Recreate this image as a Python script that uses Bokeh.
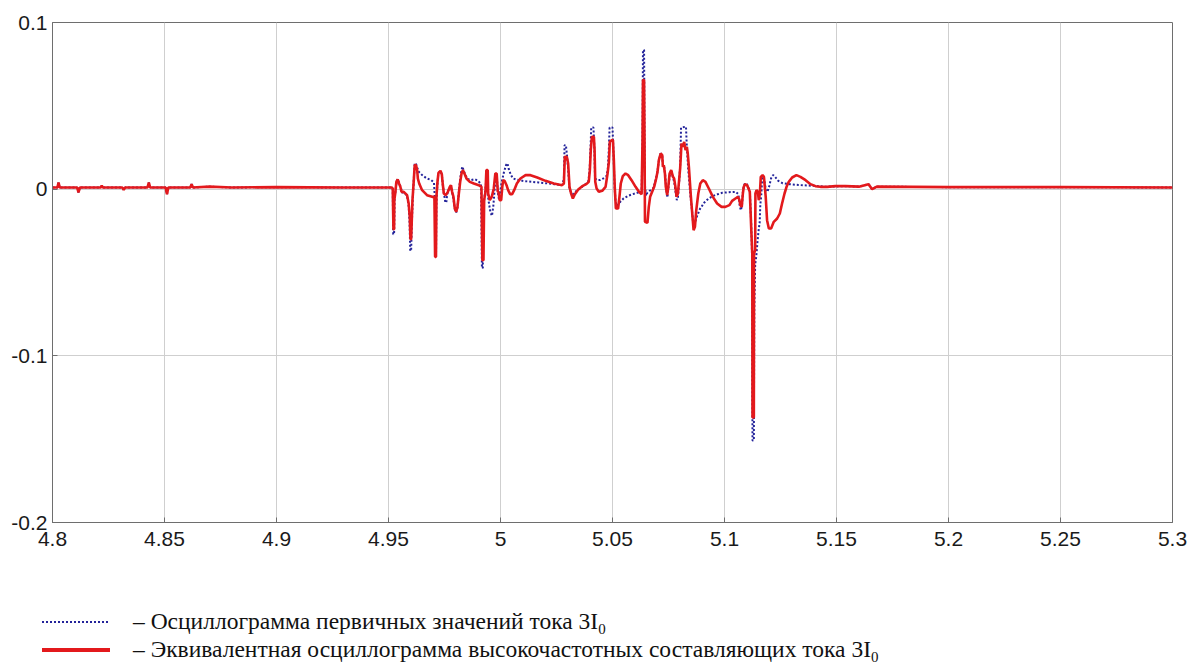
from bokeh.plotting import figure
from bokeh.layouts import column
from bokeh.models import Range1d, FixedTicker, CustomJSTickFormatter, Div
from bokeh.embed import file_html
from bokeh.resources import INLINE

# ---------------- data ----------------
x_ticks = [4.8, 4.85, 4.9, 4.95, 5.0, 5.05, 5.1, 5.15, 5.2, 5.25, 5.3]
y_ticks = [-0.2, -0.1, 0.0, 0.1]

base_t = [4.800, 4.8022, 4.8027, 4.8032, 4.8110, 4.8116, 4.8122, 4.8215, 4.8220, 4.8225,
          4.8312, 4.8318, 4.8324, 4.8424, 4.8430, 4.8436, 4.8505, 4.8511, 4.8517, 4.8615,
          4.8621, 4.8627, 4.8700, 4.8800, 4.9000, 4.9300, 4.9516]
base_v = [0.001, 0.001, 0.004, 0.001, 0.001, -0.002, 0.001, 0.001, 0.002, 0.001,
          0.001, -0.0005, 0.001, 0.001, 0.004, 0.001, 0.001, -0.003, 0.001, 0.001,
          0.003, 0.001, 0.0015, 0.001, 0.0012, 0.001, 0.001]

tail_t = [5.1540, 5.1600, 5.1643, 5.1659, 5.1680, 5.2000, 5.2500, 5.3000]
tail_v = [0.0018, 0.0015, 0.003, 0.0, 0.0015, 0.0012, 0.0012, 0.001]

red_event_t = [4.9519, 4.9522, 4.9525, 4.9526, 4.9531, 4.9535, 4.9541, 4.9547, 4.9553, 4.9558,
               4.9568, 4.9583, 4.9590, 4.9595, 4.9598, 4.9601, 4.9603, 4.9607, 4.9613, 4.9617,
               4.9623, 4.9628, 4.9631, 4.9637, 4.9650, 4.9672, 4.9695, 4.9705, 4.9708, 4.9712,
               4.9714, 4.9718, 4.9723, 4.9732, 4.9738, 4.9742, 4.9747, 4.9756, 4.9765, 4.9774,
               4.9779, 4.9784, 4.9790, 4.9796, 4.9802, 4.9808, 4.9814, 4.9820, 4.9826, 4.9832,
               4.9839, 4.9848, 4.9863, 4.9881, 4.9903, 4.9915, 4.9919, 4.9924, 4.9927, 4.9933,
               4.9937, 4.9943, 4.9945, 4.9952, 4.9961, 4.9970, 4.9977, 4.9983, 4.9988, 4.9991,
               4.9996, 5.0003, 5.0008, 5.0012, 5.0019, 5.0027, 5.0034, 5.0043, 5.0052, 5.0061,
               5.0073, 5.0089, 5.0112, 5.0134, 5.0164, 5.0201, 5.0238, 5.0275, 5.0283, 5.0287,
               5.0296, 5.0302, 5.0308, 5.0316, 5.0323, 5.0332, 5.0347, 5.0365, 5.0383, 5.0394,
               5.0399, 5.0403, 5.0408, 5.0417, 5.0420, 5.0423, 5.0429, 5.0439, 5.0454, 5.0469,
               5.0478, 5.0484, 5.0488, 5.0497, 5.0502, 5.0506, 5.0510, 5.0515, 5.0525, 5.0531,
               5.0537, 5.0546, 5.0558, 5.0570, 5.0585, 5.0603, 5.0618, 5.0630, 5.0634, 5.0636,
               5.0641, 5.0643, 5.0645, 5.0656, 5.0662, 5.0668, 5.0677, 5.0686, 5.0695, 5.0701,
               5.0707, 5.0715, 5.0722, 5.0725, 5.0729, 5.0734, 5.0738, 5.0744, 5.0749, 5.0755,
               5.0762, 5.0770, 5.0775, 5.0781, 5.0786, 5.0792, 5.0796, 5.0802, 5.0808, 5.0814,
               5.0820, 5.0826, 5.0832, 5.0836, 5.0841, 5.0845, 5.0850, 5.0856, 5.0862, 5.0868,
               5.0874, 5.0883, 5.0892, 5.0903, 5.0915, 5.0930, 5.0948, 5.0967, 5.0987, 5.1004,
               5.1022, 5.1034, 5.1049, 5.1060, 5.1066, 5.1071, 5.1077, 5.1082, 5.1086, 5.1092,
               5.1101, 5.1107, 5.1113, 5.1119, 5.1124, 5.1125, 5.1131, 5.1132, 5.1137, 5.1138,
               5.1143, 5.1149, 5.1153, 5.1158, 5.1162, 5.1170, 5.1176, 5.1180, 5.1184, 5.1190,
               5.1198, 5.1208, 5.1220, 5.1235, 5.1247, 5.1257, 5.1268, 5.1277, 5.1287, 5.1302,
               5.1321, 5.1339, 5.1362, 5.1384, 5.1406, 5.1428, 5.1458, 5.1495]
red_event_v = [0.0002, -0.0240, -0.0240, -0.0066, -0.0016, 0.0044, 0.0058, 0.0034, 0.0014, -0.0016,
               -0.0016, -0.0036, -0.0086, -0.0166, -0.0300, -0.0300, -0.0226, -0.0066, 0.0054, 0.0144,
               0.0144, 0.0114, 0.0064, 0.0034, -0.0006, -0.0036, -0.0046, -0.0046, -0.0406, -0.0406,
               -0.0046, 0.0034, 0.0098, 0.0110, 0.0090, 0.0034, -0.0026, -0.0036, -0.0016, 0.0014,
               0.0024, -0.0016, -0.0046, -0.0116, -0.0136, -0.0106, -0.0026, 0.0044, 0.0094, 0.0114,
               0.0094, 0.0064, 0.0044, 0.0034, 0.0024, 0.0014, -0.0426, -0.0426, -0.0066, -0.0016,
               0.0114, 0.0114, -0.0026, -0.0066, -0.0046, 0.0004, 0.0094, 0.0094, -0.0016, -0.0016,
               -0.0066, -0.0066, 0.0014, 0.0054, 0.0048, 0.0024, -0.0006, -0.0030, -0.0030, -0.0006,
               0.0034, 0.0064, 0.0084, 0.0084, 0.0070, 0.0050, 0.0034, 0.0024, 0.0034, 0.0194,
               0.0194, 0.0154, 0.0014, -0.0030, -0.0056, -0.0030, -0.0002, 0.0018, 0.0030, 0.0044,
               0.0114, 0.0234, 0.0314, 0.0314, 0.0234, 0.0044, 0.0004, -0.0016, -0.0010, 0.0014,
               0.0094, 0.0164, 0.0284, 0.0294, 0.0294, 0.0174, 0.0014, -0.0116, -0.0116, -0.0046,
               0.0034, 0.0078, 0.0094, 0.0084, 0.0054, 0.0014, -0.0016, -0.0030, 0.0294, 0.0655,
               0.0655, 0.0294, -0.0196, -0.0202, -0.0106, -0.0046, -0.0016, 0.0014, 0.0064, 0.0104,
               0.0174, 0.0214, 0.0204, 0.0134, 0.0144, 0.0094, 0.0014, -0.0036, 0.0014, 0.0094,
               0.0114, 0.0074, 0.0064, 0.0014, -0.0046, -0.0026, 0.0034, 0.0124, 0.0274, 0.0254,
               0.0284, 0.0234, 0.0254, 0.0214, 0.0134, 0.0054, -0.0046, -0.0146, -0.0246, -0.0226,
               -0.0126, -0.0026, 0.0034, 0.0054, 0.0044, 0.0004, -0.0046, -0.0086, -0.0106, -0.0106,
               -0.0096, -0.0070, -0.0056, -0.0046, -0.0062, -0.0096, -0.0106, -0.0026, 0.0014, 0.0030,
               0.0024, 0.0004, -0.0016, -0.0226, -0.0386, -0.1370, -0.1370, -0.0386, -0.0366, -0.0026,
               -0.0006, -0.0016, -0.0066, -0.0026, 0.0074, 0.0084, 0.0074, 0.0014, -0.0046, -0.0186,
               -0.0236, -0.0236, -0.0196, -0.0176, -0.0146, -0.0086, -0.0026, 0.0014, 0.0044, 0.0070,
               0.0084, 0.0074, 0.0054, 0.0030, 0.0018, 0.0014, 0.0014, 0.0018]

blue_event_t = [4.9519, 4.9521, 4.9525, 4.9527, 4.9532, 4.9537, 4.9542, 4.9548, 4.9555, 4.9560,
                4.9570, 4.9583, 4.9590, 4.9594, 4.9597, 4.9601, 4.9604, 4.9608, 4.9613, 4.9617,
                4.9622, 4.9628, 4.9635, 4.9650, 4.9670, 4.9690, 4.9703, 4.9707, 4.9709, 4.9712,
                4.9714, 4.9718, 4.9722, 4.9730, 4.9738, 4.9742, 4.9748, 4.9754, 4.9758, 4.9762,
                4.9770, 4.9778, 4.9784, 4.9790, 4.9796, 4.9802, 4.9808, 4.9814, 4.9820, 4.9826,
                4.9830, 4.9836, 4.9845, 4.9855, 4.9870, 4.9885, 4.9900, 4.9913, 4.9917, 4.9921,
                4.9924, 4.9930, 4.9937, 4.9942, 4.9948, 4.9955, 4.9962, 4.9968, 4.9974, 4.9978,
                4.9983, 4.9988, 4.9993, 4.9998, 5.0005, 5.0015, 5.0025, 5.0031, 5.0037, 5.0045,
                5.0055, 5.0070, 5.0090, 5.0110, 5.0140, 5.0170, 5.0200, 5.0240, 5.0275, 5.0283,
                5.0286, 5.0292, 5.0297, 5.0302, 5.0308, 5.0316, 5.0323, 5.0335, 5.0350, 5.0365,
                5.0380, 5.0393, 5.0398, 5.0402, 5.0405, 5.0415, 5.0419, 5.0422, 5.0430, 5.0445,
                5.0460, 5.0472, 5.0479, 5.0484, 5.0487, 5.0500, 5.0505, 5.0509, 5.0513, 5.0518,
                5.0525, 5.0535, 5.0550, 5.0570, 5.0590, 5.0610, 5.0630, 5.0634, 5.0636, 5.0641,
                5.0643, 5.0645, 5.0650, 5.0656, 5.0665, 5.0680, 5.0690, 5.0700, 5.0707, 5.0715,
                5.0722, 5.0726, 5.0730, 5.0735, 5.0740, 5.0745, 5.0750, 5.0756, 5.0763, 5.0770,
                5.0776, 5.0782, 5.0787, 5.0792, 5.0797, 5.0802, 5.0806, 5.0828, 5.0832, 5.0838,
                5.0843, 5.0848, 5.0855, 5.0861, 5.0866, 5.0875, 5.0890, 5.0910, 5.0930, 5.0950,
                5.0970, 5.0990, 5.1020, 5.1050, 5.1062, 5.1068, 5.1073, 5.1078, 5.1082, 5.1086,
                5.1092, 5.1100, 5.1107, 5.1113, 5.1119, 5.1123, 5.1125, 5.1131, 5.1133, 5.1137,
                5.1142, 5.1147, 5.1152, 5.1157, 5.1160, 5.1164, 5.1168, 5.1175, 5.1180, 5.1185,
                5.1192, 5.1200, 5.1208, 5.1217, 5.1225, 5.1240, 5.1260, 5.1290, 5.1330, 5.1400,
                5.1450]
blue_event_v = [0.0000, -0.0270, -0.0270, -0.0060, 0.0000, 0.0050, 0.0060, 0.0035, 0.0010, -0.0020,
                -0.0020, -0.0040, -0.0100, -0.0200, -0.0370, -0.0370, -0.0220, -0.0060, 0.0060, 0.0155,
                0.0155, 0.0130, 0.0105, 0.0085, 0.0065, 0.0055, 0.0040, -0.0060, -0.0410, -0.0410,
                -0.0080, 0.0020, 0.0090, 0.0110, 0.0090, 0.0030, -0.0030, -0.0080, -0.0080, -0.0030,
                0.0000, 0.0020, -0.0020, -0.0060, -0.0120, -0.0140, -0.0110, -0.0020, 0.0060, 0.0115,
                0.0135, 0.0110, 0.0080, 0.0060, 0.0055, 0.0060, 0.0050, 0.0030, -0.0470, -0.0475,
                -0.0100, -0.0030, 0.0060, -0.0020, -0.0080, -0.0140, -0.0160, -0.0100, 0.0000, 0.0080,
                0.0090, -0.0020, -0.0060, -0.0020, 0.0040, 0.0100, 0.0145, 0.0155, 0.0120, 0.0090,
                0.0065, 0.0058, 0.0052, 0.0048, 0.0044, 0.0040, 0.0036, 0.0030, 0.0025, 0.0060,
                0.0264, 0.0264, 0.0200, 0.0120, 0.0000, -0.0020, -0.0030, -0.0015, 0.0000, 0.0015,
                0.0030, 0.0050, 0.0120, 0.0250, 0.0370, 0.0370, 0.0250, 0.0065, 0.0055, 0.0055,
                0.0065, 0.0075, 0.0120, 0.0250, 0.0370, 0.0370, 0.0200, 0.0020, -0.0060, -0.0100,
                -0.0095, -0.0075, -0.0055, -0.0040, -0.0030, -0.0022, -0.0018, 0.0300, 0.0835, 0.0835,
                0.0300, 0.0020, -0.0040, -0.0020, -0.0010, 0.0000, 0.0040, 0.0100, 0.0170, 0.0215,
                0.0200, 0.0130, 0.0145, 0.0090, 0.0000, -0.0050, 0.0010, 0.0090, 0.0115, 0.0070,
                0.0040, -0.0020, -0.0065, -0.0050, 0.0030, 0.0140, 0.0370, 0.0375, 0.0250, 0.0120,
                0.0040, -0.0040, -0.0130, -0.0220, -0.0215, -0.0170, -0.0120, -0.0080, -0.0055, -0.0040,
                -0.0030, -0.0022, -0.0018, -0.0016, -0.0030, -0.0100, -0.0126, -0.0100, -0.0020, 0.0020,
                0.0035, 0.0030, 0.0010, -0.0010, -0.0200, -0.0400, -0.1508, -0.1508, -0.0710, -0.0450,
                -0.0400, -0.0320, -0.0250, -0.0200, -0.0090, -0.0040, 0.0060, 0.0075, 0.0035, -0.0010,
                -0.0015, 0.0020, 0.0065, 0.0085, 0.0075, 0.0050, 0.0035, 0.0030, 0.0025, 0.0020,
                0.0015]

legend_labels = ["\u2013 Осциллограмма первичных значений тока 3I",
                 "\u2013 Эквивалентная осциллограмма высокочастотных составляющих тока 3I"]
legend_sub = "0"

red_t = base_t + red_event_t + tail_t
red_v = base_v + red_event_v + tail_v
blue_t = base_t + blue_event_t + tail_t
blue_v = base_v + blue_event_v + tail_v

RED = "#e3191c"
BLUE = "#23239a"

# ---------------- main figure ----------------
p = figure(frame_width=1120, frame_height=500,
           min_border_left=52, min_border_right=15, min_border_top=22, min_border_bottom=32,
           x_range=Range1d(4.8, 5.3), y_range=Range1d(-0.2, 0.1),
           output_backend="svg", toolbar_location=None)

p.line(blue_t, blue_v, line_color=BLUE, line_width=2, line_dash="2 2")
p.line(red_t, red_v, line_color=RED, line_width=2.6)

fmt = CustomJSTickFormatter(code="return String(parseFloat(tick.toFixed(3)));")
p.xaxis.ticker = FixedTicker(ticks=x_ticks, minor_ticks=[])
p.yaxis.ticker = FixedTicker(ticks=y_ticks, minor_ticks=[])
p.xaxis.formatter = fmt
p.yaxis.formatter = fmt

for ax in (p.xaxis, p.yaxis):
    ax.major_label_text_font = "Liberation Sans"
    ax.major_label_text_font_size = "21px"
    ax.major_label_text_color = "#1a1a1a"
    ax.axis_line_color = "#6e6e6e"
    ax.major_tick_line_color = "#6e6e6e"
    ax.major_tick_in = 5
    ax.major_tick_out = 0
    ax.minor_tick_line_color = None
p.xaxis.major_label_standoff = 9
p.yaxis.major_label_standoff = 5

p.outline_line_color = "#6e6e6e"
p.outline_line_width = 1
p.xgrid.grid_line_color = "#cfcfcf"
p.ygrid.grid_line_color = "#cfcfcf"
p.background_fill_color = "white"
p.border_fill_color = "white"

# ---------------- legend (below the plot) ----------------
row_tops = [55, 83]
sub_style = "font-size:15px;position:relative;top:5px;line-height:0;"
html = (
    '<div style="position:relative;width:1187px;height:112px;overflow:hidden;'
    'font-family:\'Liberation Serif\',serif;font-size:23.5px;color:#111;">'
    f'<div style="position:absolute;left:42px;top:{row_tops[0] + 12}px;width:66px;'
    f'border-top:2px dotted {BLUE};"></div>'
    f'<div style="position:absolute;left:42px;top:{row_tops[1] + 11}px;width:68px;'
    f'border-top:4px solid {RED};"></div>'
    f'<div style="position:absolute;left:133px;top:{row_tops[0]}px;line-height:24px;white-space:nowrap;">'
    f'{legend_labels[0]}<span style="{sub_style}">{legend_sub}</span></div>'
    f'<div style="position:absolute;left:133px;top:{row_tops[1]}px;line-height:24px;white-space:nowrap;">'
    f'{legend_labels[1]}<span style="{sub_style}">{legend_sub}</span></div>'
    '</div>'
)
lg = Div(text=html, width=1187, height=112, margin=0)

layout = column(p, lg, spacing=0)
open("out.html", "w").write(file_html(layout, INLINE))
